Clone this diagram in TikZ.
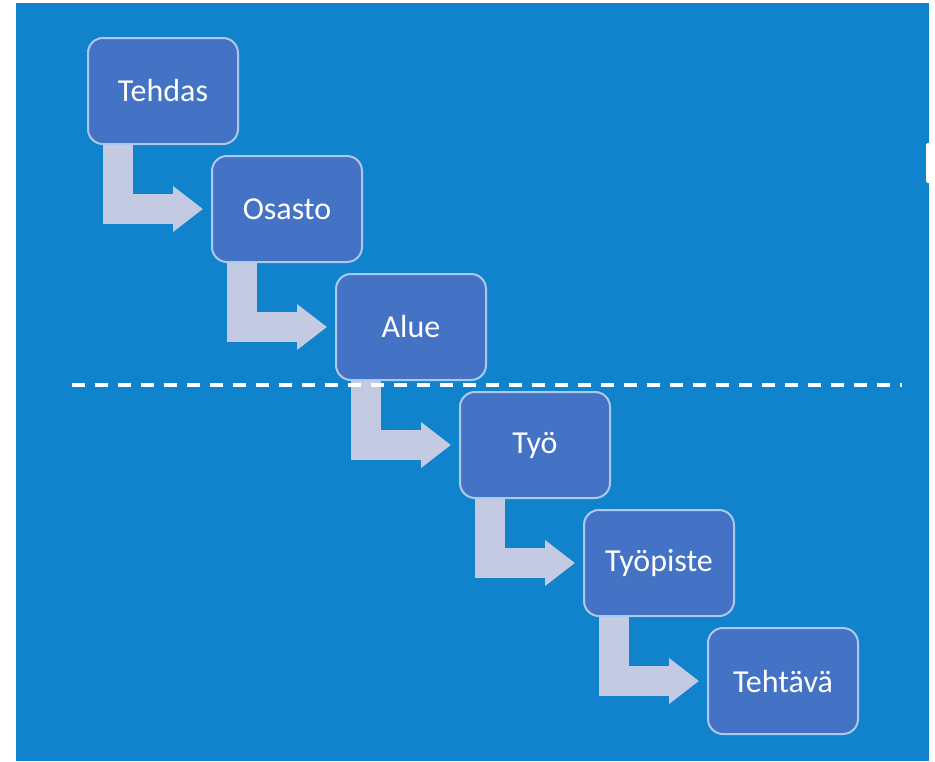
\documentclass[tikz,border=0pt]{standalone}
\usepackage{fontspec}
\setmainfont{Carlito}
\usepackage{tikz}
\usetikzlibrary{arrows.meta,positioning}

\definecolor{bgblue}{RGB}{17,130,204}
\definecolor{boxblue}{RGB}{68,114,196}
\definecolor{boxrim}{RGB}{172,201,236}
\definecolor{flowgray}{RGB}{197,202,227}

\tikzset{
  level/.style={draw=boxrim, line width=2pt, fill=boxblue, rounded corners=15pt,
    minimum width=150pt, minimum height=106pt, text=white, font=\fontsize{32}{38}\selectfont},
  flow/.style={draw=flowgray, line width=30pt, line join=miter,
    -{Triangle[width=44pt,length=30pt]}},
  cutline/.style={white, line width=4pt, dash pattern=on 13pt off 10pt}
}

\begin{document}
\begin{tikzpicture}[x=1pt,y=-1pt]
\useasboundingbox (0,0) rectangle (935,761);
\fill[bgblue] (16,3) rectangle (929,761);
\fill[white, rounded corners=1.5pt] (926,143) rectangle (930,183);

% levels
\foreach \name/\txt [count=\i from 0] in {tehdas/Tehdas,osasto/Osasto,alue/Alue,tyo/Työ,tyopiste/Työpiste,tehtava/Tehtävä}
  \node[level] (\name) at ({163+124*\i},{91+118*\i}) {\txt};

% L-shaped connectors
\foreach \a/\b in {tehdas/osasto,osasto/alue,alue/tyo,tyo/tyopiste,tyopiste/tehtava}
  \draw[flow] ([xshift=31pt]\a.south west) |- ([xshift=-8pt]\b.west);

\draw[cutline] (72,385) -- (902,385);
\end{tikzpicture}
\end{document}
